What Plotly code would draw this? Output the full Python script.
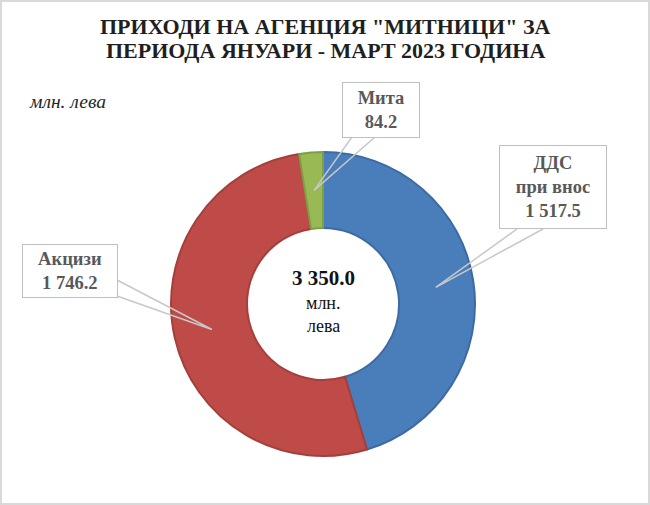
import math
import plotly.graph_objects as go

# ---- data ----
categories = ["ДДС при внос", "Акцизи", "Мита"]
box_texts = ["ДДС<br>при внос<br>1 517.5", "Акцизи<br>1 746.2", "Мита<br>84.2"]
values = [1517.5, 1746.2, 84.2]
total_label = "3 350.0"
unit_label = "млн. лева"
title_lines = ["ПРИХОДИ НА АГЕНЦИЯ \"МИТНИЦИ\" ЗА", "ПЕРИОДА ЯНУАРИ - МАРТ 2023 ГОДИНА"]

colors = ["#4A7EBB", "#BE4B48", "#98B954"]
edge_colors = ["#3D6AA3", "#A53F3C", "#7F9E45"]

# ---- layout geometry (pixels) ----
W, H = 650, 505
cx, cy, R = 323, 304, 152
hole = 0.5

# callout boxes: (center x, center y, width, height) and wedge base points
boxes = [
    (553, 187, 108, 84, [(517, 229), (543, 229)]),
    (70, 271, 96, 54, [(117, 280), (117, 296)]),
    (381, 110, 78, 56, [(352, 137), (375, 137)]),
]

def px2paper(x, y):
    return x / W, 1 - y / H

fig = go.Figure()
fig.add_trace(go.Pie(
    labels=categories, values=values, hole=hole, sort=False,
    direction="clockwise", rotation=0, textinfo="none",
    marker=dict(colors=colors, line=dict(color=edge_colors, width=2)),
    domain=dict(x=[(cx - R) / W, (cx + R) / W],
                y=[(H - cy - R) / H, (H - cy + R) / H]),
    showlegend=False, hoverinfo="label+value",
))

shapes = []
annotations = []
tot = sum(values)
start = 0.0
r_mid = R * (1 + hole) / 2
for i, v in enumerate(values):
    span = v / tot * 2 * math.pi
    mid = start + span / 2
    start += span
    tx = cx + r_mid * math.sin(mid)
    ty = cy - r_mid * math.cos(mid)
    bx, by, bw, bh, base = boxes[i]
    (x1, y1), (x2, y2) = base
    p1 = px2paper(x1, y1); p2 = px2paper(x2, y2); pt = px2paper(tx, ty)
    shapes.append(dict(
        type="path", xref="paper", yref="paper", layer="above",
        path=f"M {p1[0]} {p1[1]} L {pt[0]} {pt[1]} L {p2[0]} {p2[1]}",
        line=dict(color="#C8C8C8", width=1.5),
    ))
    bxp, byp = px2paper(bx, by)
    annotations.append(dict(
        xref="paper", yref="paper", x=bxp, y=byp, xanchor="center", yanchor="middle",
        text=box_texts[i], showarrow=False, width=bw - 2, height=bh - 2,
        bgcolor="white", bordercolor="#BFBFBF", borderwidth=1, borderpad=0,
        font=dict(family="Liberation Serif", size=18.5, color="#595959", weight="bold"),
        align="center",
    ))

# title
for j, line in enumerate(title_lines):
    x, y = px2paper(326, 26 + j * 25)
    annotations.append(dict(xref="paper", yref="paper", x=x, y=y, text=f"<b>{line}</b>",
                            showarrow=False, xanchor="center", yanchor="middle",
                            font=dict(family="Liberation Serif", size=22, color="#1F1F1F")))

# unit label
x, y = px2paper(27, 102)
annotations.append(dict(xref="paper", yref="paper", x=x, y=y, text=f"<i>{unit_label}</i>",
                        showarrow=False, xanchor="left", yanchor="middle",
                        font=dict(family="Liberation Serif", size=19.5, color="#262626")))

# centre total
x, y = px2paper(cx, 278)
annotations.append(dict(xref="paper", yref="paper", x=x, y=y, text=f"<b>{total_label}</b>",
                        showarrow=False, xanchor="center", yanchor="middle",
                        font=dict(family="Liberation Serif", size=21, color="#111111")))
for j, word in enumerate(unit_label.split(" ")):
    x, y = px2paper(cx, 303 + j * 23)
    annotations.append(dict(xref="paper", yref="paper", x=x, y=y, text=word,
                            showarrow=False, xanchor="center", yanchor="middle",
                            font=dict(family="Liberation Serif", size=18, color="#111111")))

# outer frame
shapes.append(dict(type="rect", xref="paper", yref="paper", x0=0.0015, y0=0.002,
                   x1=0.9985, y1=0.998, line=dict(color="#D9D9D9", width=2)))

fig.update_layout(
    width=W, height=H, margin=dict(l=0, r=0, t=0, b=0),
    paper_bgcolor="white", plot_bgcolor="white",
    shapes=shapes, annotations=annotations,
)
fig.write_html("out.html", config={"displayModeBar": False},
               post_script="document.body.style.margin='0px';")
